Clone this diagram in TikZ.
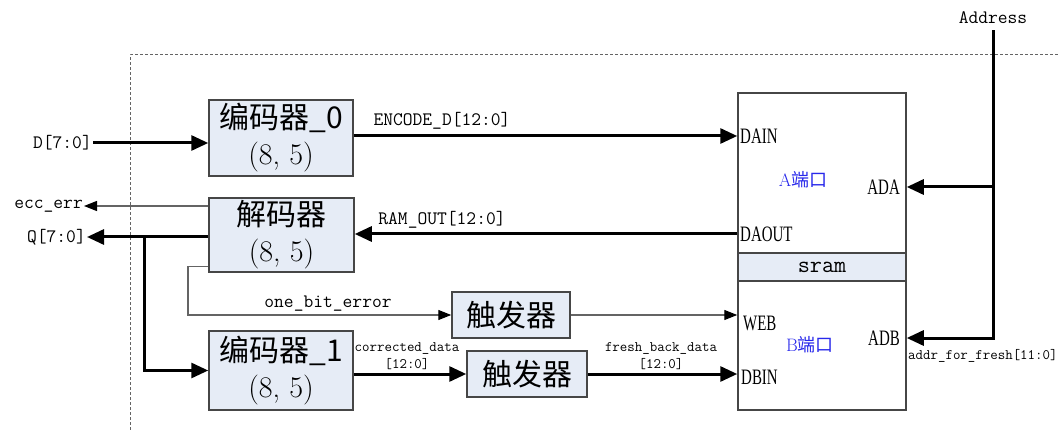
\documentclass[tikz,border=0pt]{standalone}
\usepackage{fontspec}
\newfontfamily\cjk{Noto Sans CJK SC}
\newfontfamily\portfont[FakeStretch=0.68]{Liberation Serif}
\usetikzlibrary{arrows.meta,positioning}
\definecolor{boxfill}{RGB}{230,236,246}
\definecolor{boxline}{RGB}{70,70,70}
\definecolor{wiregray}{RGB}{100,100,100}
\definecolor{portblue}{RGB}{40,40,235}

\begin{document}
\begin{tikzpicture}
	[x=1pt, y=-1pt, inner sep=0pt,
	block/.style	= {rectangle, draw=boxline, line width=1.5pt, fill=boxfill, align=center, font=\fontsize{30}{36}\selectfont},
	bus/.style		= {-{Triangle[length=17pt,width=15pt]}, line width=3pt},
	wire/.style		= {-{Triangle[length=13pt,width=10pt,color=black]}, line width=1.2pt, draw=wiregray},
	sig/.style		= {font=\ttfamily\fontsize{19}{22}\selectfont, inner sep=1pt},
	small/.style	= {font=\ttfamily\fontsize{14.5}{17}\selectfont, align=center},
	port/.style		= {font=\portfont\fontsize{22}{24}\selectfont},
	side/.style		= {font=\fontsize{18}{22}\selectfont, text=portblue}]
	
	\useasboundingbox (0, 0) rectangle (1059, 430);
	\draw [draw=wiregray, line width=1pt, dash pattern=on 3pt off 2pt] (130, 430) -- (130, 55) -- (1059, 55);
	
	\node at (281, 138)		[block, minimum width=144pt, minimum height=76pt]	(enc0)	{{\cjk 编码器\_0}\\(8, 5)};
	\node at (281.5, 235)	[block, minimum width=145pt, minimum height=74pt]	(dec)	{{\cjk 解码器}\\(8, 5)};
	\node at (281, 370.5)	[block, minimum width=144pt, minimum height=79pt]	(enc1)	{{\cjk 编码器\_1}\\(8, 5)};
	\node at (511, 315)		[block, minimum width=118pt, minimum height=46pt]	(trig1)	{\cjk 触发器};
	\node at (527, 374)		[block, minimum width=120pt, minimum height=46pt]	(trig2)	{\cjk 触发器};
	
	\node at (822, 251.5)	[rectangle, draw=boxline, line width=1.5pt, fill=white, minimum width=168pt, minimum height=317pt]	(sram)	{};
	\node at (822, 267)		[rectangle, draw=boxline, line width=1.5pt, fill=boxfill, minimum width=168pt, minimum height=28pt, font=\ttfamily\fontsize{23.5}{26}\selectfont]	(band)	{sram};
	
	\node at (740, 136)		[port, anchor=west]	(dain)	{DAIN};
	\node at (740, 234)		[port, anchor=west]	(daout)	{DAOUT};
	\node at (743, 323)		[port, anchor=west]	(web)	{WEB};
	\node at (741, 377)		[port, anchor=west]	(dbin)	{DBIN};
	\node at (900, 187)		[port, anchor=east]	(ada)	{ADA};
	\node at (900, 338)		[port, anchor=east]	(adb)	{ADB};
	\node at (803, 180)		[side]	(aport)	{A{\cjk 端口}};
	\node at (810, 345)		[side]	(bport)	{B{\cjk 端口}};
	
	\node at (93, 143)		[sig, anchor=east]	(din)	{D[7:0]};
	\node at (84, 206)		[sig, anchor=east]	(ecc)	{ecc\_err};
	\node at (87, 237)		[sig, anchor=east]	(qout)	{Q[7:0]};
	\node at (993, 18)		[sig]	(addr)	{Address};
	
	\node at (442, 121)		[sig]	(enclbl)	{ENCODE\_D[12:0]};
	\node at (442, 220)		[sig]	(ramlbl)	{RAM\_OUT[12:0]};
	\node at (328, 304)		[sig]	(obelbl)	{one\_bit\_error};
	\node at (407, 356)		[small]	(corrlbl)	{corrected\_data\\{}[12:0]};
	\node at (661, 356)		[small]	(freshlbl)	{fresh\_back\_data\\{}[12:0]};
	\node at (908, 356)		[small, anchor=west]	(adfresh)	{addr\_for\_fresh[11:0]};
	
	\coordinate (qsplit) at (144, 237);
	\coordinate (obe) at (188, 315);
	\coordinate (abend) at (993, 338);
	
	\draw [bus] (din.east) -- (enc0.west |- din.east);
	\draw [bus] (enc0.east |- dain.west) -- (sram.west |- dain.west);
	\draw [bus] (sram.west |- daout.west) -- (dec.east |- daout.west);
	\draw [wire] (dec.west |- ecc.east) -- (ecc.east);
	\draw [bus] (dec.west |- qout.east) -- (qout.east);
	\draw [bus] (qsplit) |- (enc1.west);
	\draw [wire] ([yshift=6pt]dec.south west) -| (obe) -- (trig1.west);
	\draw [wire] (trig1.east) -- (trig1.east -| sram.west);
	\draw [bus] (enc1.east |- trig2.west) -- (trig2.west);
	\draw [bus] (trig2.east) -- (trig2.east -| sram.west);
	
	\draw [bus] ([yshift=-5pt]addr.south) -- (abend) -- (sram.east |- abend);
	\draw [bus] (abend |- ada.east) -- (sram.east |- ada.east);
\end{tikzpicture}
\end{document}
